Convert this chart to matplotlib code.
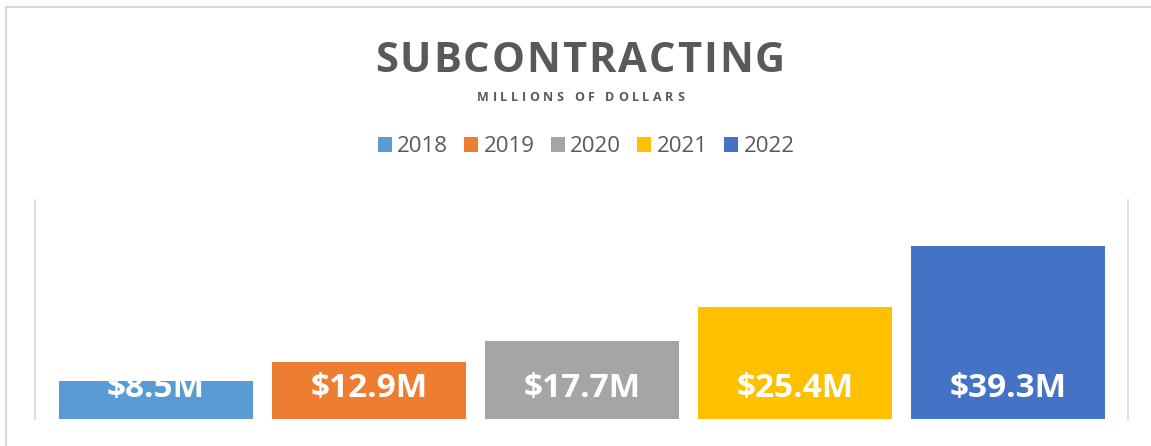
import matplotlib
matplotlib.use("Agg")
import matplotlib.pyplot as plt
from matplotlib.transforms import IdentityTransform
from matplotlib.font_manager import FontProperties
from matplotlib.lines import Line2D

years = ["2018", "2019", "2020", "2021", "2022"]
values = [8.5, 12.9, 17.7, 25.4, 39.3]
colors = ["#5B9BD5", "#ED7D31", "#A5A5A5", "#FFC000", "#4472C4"]
title = "SUBCONTRACTING"
subtitle = "MILLIONS OF DOLLARS"

W, H, DPI = 1151, 446, 100
FONT = "Open Sans"
GREY = "#595959"

fig = plt.figure(figsize=(W / DPI, H / DPI), dpi=DPI)
fig.patch.set_facecolor("white")

# axes placement in pixels
ax_l, ax_r, ax_t, ax_b = 35, 1128, 199.5, 418.5
ax = fig.add_axes([ax_l / W, 1 - ax_b / H, (ax_r - ax_l) / W, (ax_b - ax_t) / H])

xs = list(range(len(years)))
bw = 194 / 213
bars = []
for x, v, c, y in zip(xs, values, colors, years):
    b = ax.bar(x, v, width=bw, color=c, label=y, zorder=2)
    bars.append(b)
    ax.annotate(f"${v}M", xy=(x, 0), xytext=(0, 21 * 72 / DPI), textcoords="offset points",
                ha="center", va="baseline", color="white", fontsize=24,
                fontweight="bold", family=FONT, zorder=3)

ax.set_xlim(-bw / 2 - 24 / 213, -bw / 2 - 24 / 213 + (ax_r - ax_l) / 213)
ax.set_ylim(0, 50)
ax.set_xticks([])
ax.set_yticks([])
for s in ["top", "bottom"]:
    ax.spines[s].set_visible(False)
for s in ["left", "right"]:
    ax.spines[s].set_color("#D9D9D9")
    ax.spines[s].set_linewidth(1.2)

# legend
leg = fig.legend(handles=[b[0] for b in bars], labels=years, loc="center",
                 bbox_to_anchor=(586 / W, 1 - 147 / H), ncol=5, frameon=False,
                 prop=FontProperties(family=FONT, size=16),
                 handlelength=0.63, handleheight=0.63,
                 handletextpad=0.25, columnspacing=0.72)
for t in leg.get_texts():
    t.set_color(GREY)

# tracked text helper
renderer = fig.canvas.get_renderer()


def tracked(text, cx, baseline, target_w, size, weight):
    fp = FontProperties(family=FONT, weight=weight, size=size)
    px = size * DPI / 72
    widths = []
    for ch in text:
        if ch == " ":
            widths.append(0.26 * px)
        else:
            w, h, d = renderer.get_text_width_height_descent(ch, fp, ismath=False)
            widths.append(w)
    gap = (target_w - sum(widths)) / (len(text) - 1)
    x = cx - target_w / 2
    for ch, w in zip(text, widths):
        if ch != " ":
            fig.text(x, H - baseline, ch, transform=IdentityTransform(), fontproperties=fp,
                     color=GREY, ha="left", va="baseline")
        x += w + gap


tracked(title, 580, 72, 410, 30, "bold")
tracked(subtitle, 580.5, 101, 207, 9, "bold")

# outer border (top and left visible)
fig.add_artist(Line2D([6, W], [H - 7, H - 7], transform=IdentityTransform(), color="#D9D9D9", lw=1.5))
fig.add_artist(Line2D([6, 6], [0, H - 7], transform=IdentityTransform(), color="#D9D9D9", lw=1.5))

fig.savefig("out.png", dpi=DPI, facecolor="white")
